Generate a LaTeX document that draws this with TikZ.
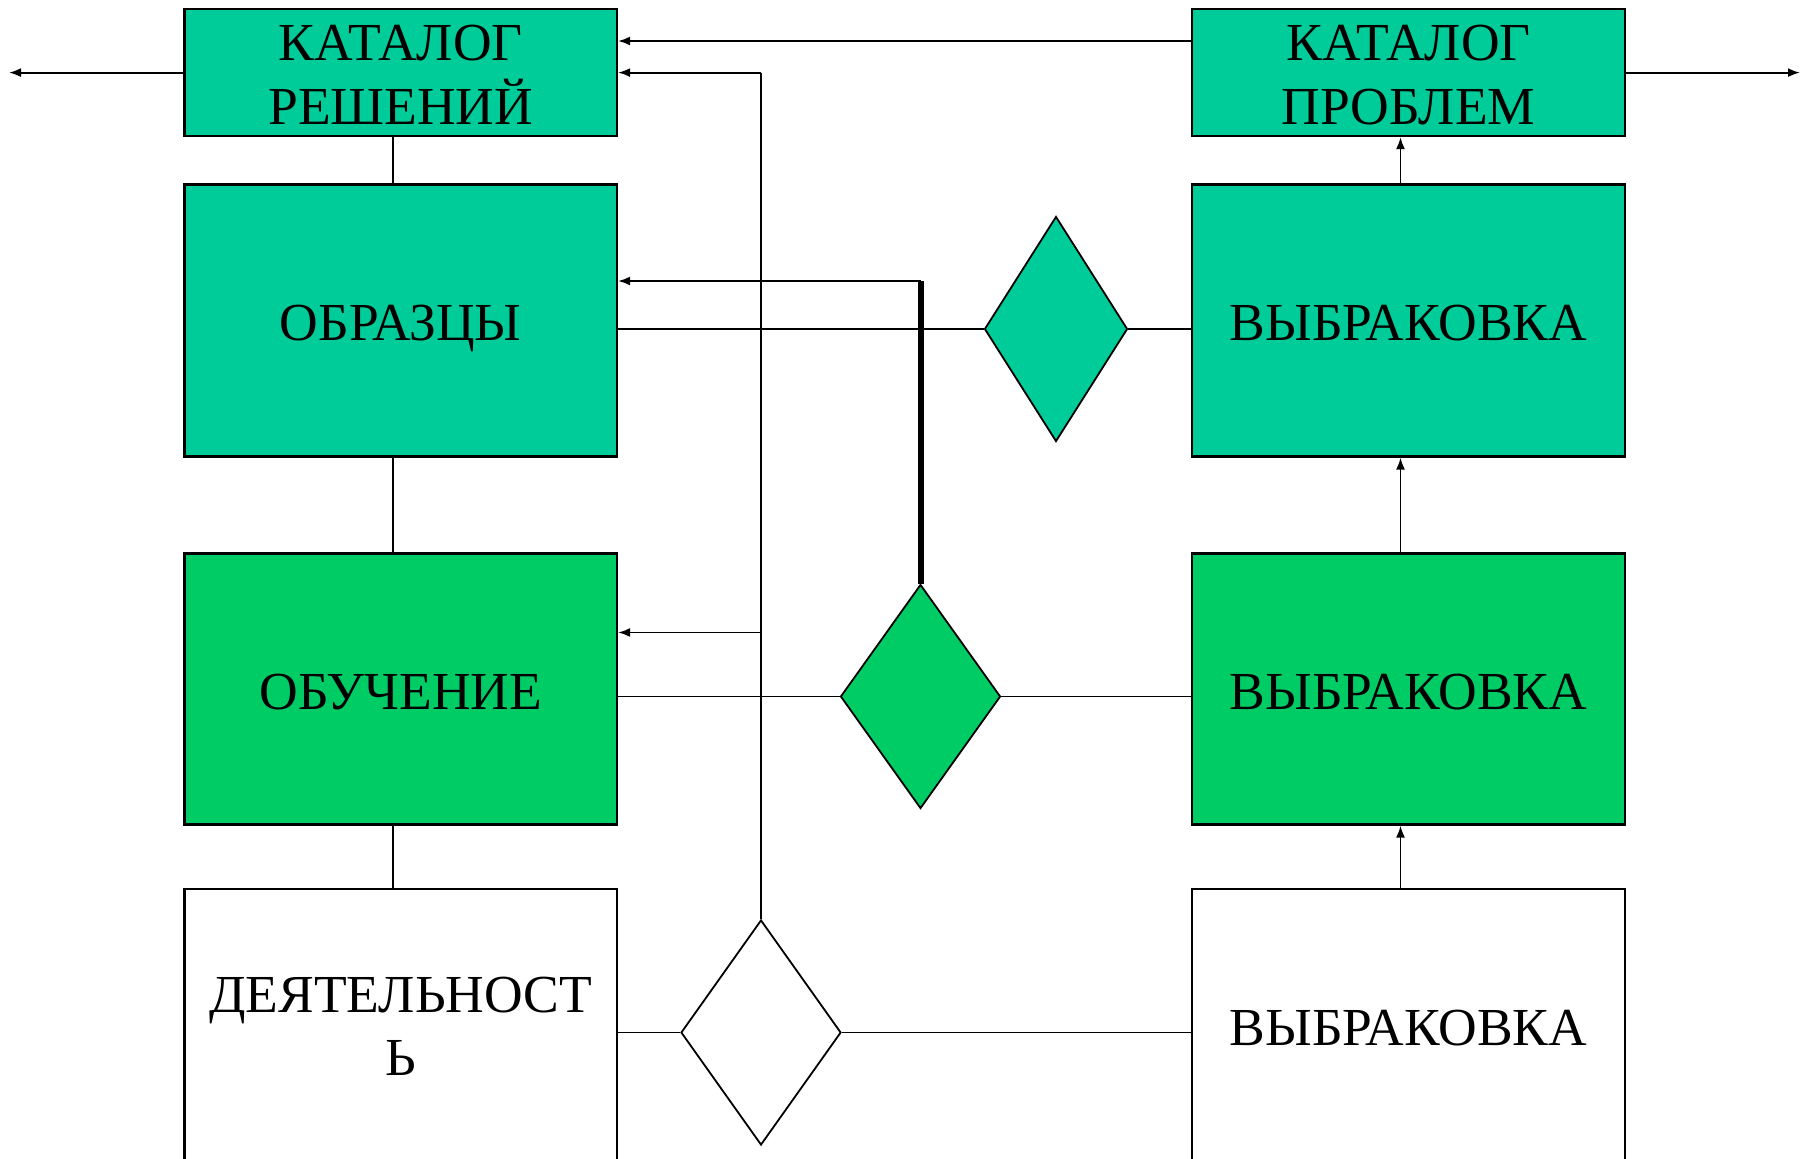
\documentclass[tikz,border=0pt]{standalone}
\usepackage{fontspec}
\setmainfont{Liberation Serif}
\usetikzlibrary{shapes.geometric,arrows.meta}
\definecolor{tealbox}{RGB}{0,204,153}
\definecolor{greenbox}{RGB}{0,204,102}
\begin{document}
\begin{tikzpicture}[x=1pt,y=-1pt,
  box/.style={draw=black, line width=2.2pt, rectangle, minimum width=432.5pt, inner sep=0pt},
  txt/.style={anchor=base, inner sep=0pt, font=\fontsize{53.5}{63}\selectfont},
  dia/.style={draw=black, line width=1.8pt, diamond, inner sep=0pt},
  ln/.style={line width=1.9pt},
  thk/.style={line width=6pt},
  arr/.style={line width=1.9pt, -{Latex[length=12pt,width=9pt]}},
]
\clip (0,0) rectangle (1808,1159);
\fill[white] (0,0) rectangle (1808,1159);

% boxes
\node[box, fill=tealbox, minimum height=127pt] (catR) at (400.75,72.5) {};
\node[box, fill=tealbox, minimum height=127pt] (catP) at (1408.5,72.5) {};
\node[box, fill=tealbox, minimum height=272pt] (obr) at (400.75,320.5) {};
\node[box, fill=tealbox, minimum height=272pt] (vyb1) at (1408.5,320.5) {};
\node[box, fill=greenbox, minimum height=271pt] (obu) at (400.75,689) {};
\node[box, fill=greenbox, minimum height=271pt] (vyb2) at (1408.5,689) {};
\node[box, fill=white, minimum height=291pt] (dey) at (400.75,1034.5) {};
\node[box, fill=white, minimum height=291pt] (vyb3) at (1408.5,1034.5) {};

% texts
\node[txt] (catRa) at (400.75,60) {КАТАЛОГ};
\node[txt] (catRb) at (400.75,124) {РЕШЕНИЙ};
\node[txt] (catPa) at (1408.5,60) {КАТАЛОГ};
\node[txt] (catPb) at (1408.5,124) {ПРОБЛЕМ};
\node[txt] (obrt) at (400.75,340) {ОБРАЗЦЫ};
\node[txt] (vyb1t) at (1408.5,340) {ВЫБРАКОВКА};
\node[txt] (obut) at (400.75,709.5) {ОБУЧЕНИЕ};
\node[txt] (vyb2t) at (1408.5,709.5) {ВЫБРАКОВКА};
\node[txt] (deya) at (400.75,1012.5) {ДЕЯТЕЛЬНОСТ};
\node[txt] (deyb) at (400.75,1075.5) {Ь};
\node[txt] (vyb3t) at (1408.5,1045) {ВЫБРАКОВКА};

% diamonds
\node[dia, fill=tealbox, minimum width=143pt, minimum height=225pt] (d1) at (1056,329) {};
\node[dia, fill=greenbox, minimum width=160pt, minimum height=224pt] (d2) at (920.5,696.5) {};
\node[dia, fill=white, minimum width=160pt, minimum height=225pt] (d3) at (761,1032.5) {};

% coordinates
\coordinate (leftend) at (9,72.6);
\coordinate (rightend) at (1800,72.6);
\coordinate (vtop) at (761,72.6);
\coordinate (vobu) at (761,632.5);
\coordinate (thtop) at (920.5,281);

% left column vertical connectors
\draw[ln] (catR.south -| 393,0) -- (obr.north -| 393,0);
\draw[ln] (obr.south -| 393,0) -- (obu.north -| 393,0);
\draw[ln] (obu.south -| 393,0) -- (dey.north -| 393,0);

% right column arrows
\draw[arr] (vyb3.north -| 1400.5,0) -- (vyb2.south -| 1400.5,0);
\draw[arr] (vyb2.north -| 1400.5,0) -- (vyb1.south -| 1400.5,0);
\draw[arr] (vyb1.north -| 1400.5,0) -- (catP.south -| 1400.5,0);

% top arrows
\draw[arr] (catP.west |- 0,41) -- (catR.east |- 0,41);
\draw[arr] (catR.west |- leftend) -- (leftend);
\draw[arr] (catP.east |- rightend) -- (rightend);

% long vertical line from d3 to catalog
\draw[ln] (d3.north) -- (vtop);
\draw[arr] (vtop) -- (catR.east |- vtop);
\draw[arr] (vobu) -- (obu.east |- vobu);

% row 2
\draw[ln] (obr.east |- d1.west) -- (d1.west);
\draw[ln] (d1.east) -- (vyb1.west |- d1.east);
\draw[thk] (d2.north) -- (thtop);
\draw[arr] (thtop) -- (obr.east |- thtop);

% row 3
\draw[ln] (obu.east |- d2.west) -- (d2.west);
\draw[ln] (d2.east) -- (vyb2.west |- d2.east);

% row 4
\draw[ln] (dey.east |- d3.west) -- (d3.west);
\draw[ln] (d3.east) -- (vyb3.west |- d3.east);
\end{tikzpicture}
\end{document}
